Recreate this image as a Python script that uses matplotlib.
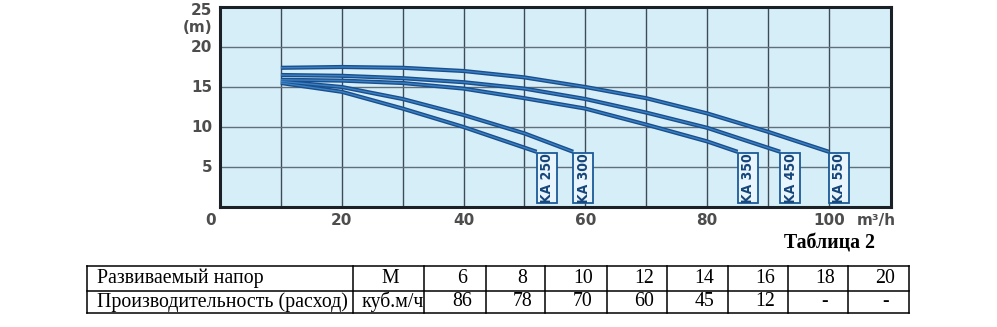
import matplotlib.pyplot as plt
from matplotlib.patches import Rectangle

# pump curves, head (m) vs flow (m3/h)
ka250_q = [10, 20, 30, 40, 52]
ka250_h = [15.5, 14.4, 12.3, 10.0, 6.9]
ka300_q = [10, 20, 30, 40, 50, 58]
ka300_h = [15.7, 15.0, 13.5, 11.5, 9.2, 6.9]
ka350_q = [10, 20, 30, 40, 50, 60, 70, 80, 85]
ka350_h = [15.9, 15.8, 15.5, 14.8, 13.6, 12.3, 10.3, 8.2, 6.9]
ka450_q = [10, 20, 30, 40, 50, 60, 70, 80, 92]
ka450_h = [16.5, 16.4, 16.1, 15.6, 14.8, 13.5, 11.8, 9.9, 6.9]
ka550_q = [10, 20, 30, 40, 50, 60, 70, 80, 90, 100]
ka550_h = [17.4, 17.5, 17.4, 17.0, 16.2, 15.0, 13.6, 11.7, 9.4, 6.9]
curve_names = ['KA 250', 'KA 300', 'KA 350', 'KA 450', 'KA 550']

x_ticks = [20, 40, 60, 80]
y_ticks = [5, 10, 15, 20]

# table 2
row_names = ['Развиваемый напор', 'Производительность (расход)']
row_units = ['М', 'куб.м/ч']
heads = ['6', '8', '10', '12', '14', '16', '18', '20']
flows = ['86', '78', '70', '60', '45', '12', '-', '-']

W, H = 997, 327
fig = plt.figure(figsize=(W / 100, H / 100), dpi=100)

ax = fig.add_axes([220 / W, 1 - 207 / H, 671 / W, 200 / H])
ax.set_facecolor('#d6eef8')
ax.set_xlim(0, 110.2)
ax.set_ylim(0, 25)
for v in range(10, 110, 10):
    ax.axvline(v, color='#3d4b58', lw=1.0, zorder=1)
for v in y_ticks:
    ax.axhline(v, color='#5f6f7c', lw=1.0, zorder=1)
for s in ax.spines.values():
    s.set_linewidth(2.2)
    s.set_color('#1b2026')

curves = [(ka250_q, ka250_h), (ka300_q, ka300_h), (ka350_q, ka350_h),
          (ka450_q, ka450_h), (ka550_q, ka550_h)]
for name, (q, h) in zip(curve_names, curves):
    ax.plot(q, h, color='#1a4f8c', lw=3.0, solid_capstyle='butt', zorder=3)
    ax.plot(q, h, color='#3a80c4', lw=1.0, solid_capstyle='butt', zorder=4)
    bx = q[-1]
    ax.add_patch(Rectangle((bx, 0.45), 3.3, h[-1] - 0.6, facecolor='#e8f5fc',
                           edgecolor='#1c5a99', lw=1.3, zorder=5))
    ax.text(bx + 1.7, 0.45 + (h[-1] - 0.6) / 2, name, rotation=90,
            ha='center', va='center', color='#16457a', fontsize=10,
            fontweight='bold', fontstretch='condensed', family='DejaVu Sans',
            zorder=6)

ax.set_xticks([])
ax.set_yticks([])
lab = dict(color='#4d4d4d', fontsize=11, fontweight='bold', family='DejaVu Sans')
for v in x_ticks + [100]:
    ax.text(v, -1.7, str(v), ha='center', va='center', **lab)
ax.text(-1.5, -1.7, '0', ha='center', va='center', **lab)
ax.text(104.5, -1.7, 'm³/h', ha='left', va='center', **lab)
for v in y_ticks:
    ax.text(-1.3, v, str(v), ha='right', va='center', **lab)
ax.text(-1.3, 24.6, '25', ha='right', va='center', **lab)
ax.text(-1.3, 22.4, '(m)', ha='right', va='center', **lab)

# table drawn in pixel space
tab = fig.add_axes([0, 0, 1, 1])
tab.set_xlim(0, W)
tab.set_ylim(H, 0)
tab.axis('off')
col_x = [87, 353, 424, 486, 545, 607, 667, 728, 788, 848, 909]
row_y = [266, 291, 313]
for y in row_y:
    tab.plot([col_x[0], col_x[-1]], [y, y], color='black', lw=1.1)
for x in col_x:
    tab.plot([x, x], [row_y[0], row_y[-1]], color='black', lw=1.1)

serif = dict(family='Liberation Serif', fontsize=14.3, color='black', va='center')
tab.text(875, 243, 'Таблица 2', ha='right', fontweight='bold', **serif)
rows = [heads, flows]
for r in range(2):
    yc = (row_y[r] + row_y[r + 1]) / 2
    tab.text(97, yc, row_names[r], ha='left', **serif)
    if r == 0:
        tab.text(390, yc, row_units[r], ha='center', **serif)
    else:
        t = tab.text(362, yc, row_units[r], ha='left', **serif)
        t.set_clip_box(None)
    for i, val in enumerate(rows[r]):
        xc = (col_x[i + 2] + col_x[i + 3]) / 2 + 7
        tab.text(xc, yc, val, ha='center', **serif)

fig.savefig('out.png', dpi=100)
